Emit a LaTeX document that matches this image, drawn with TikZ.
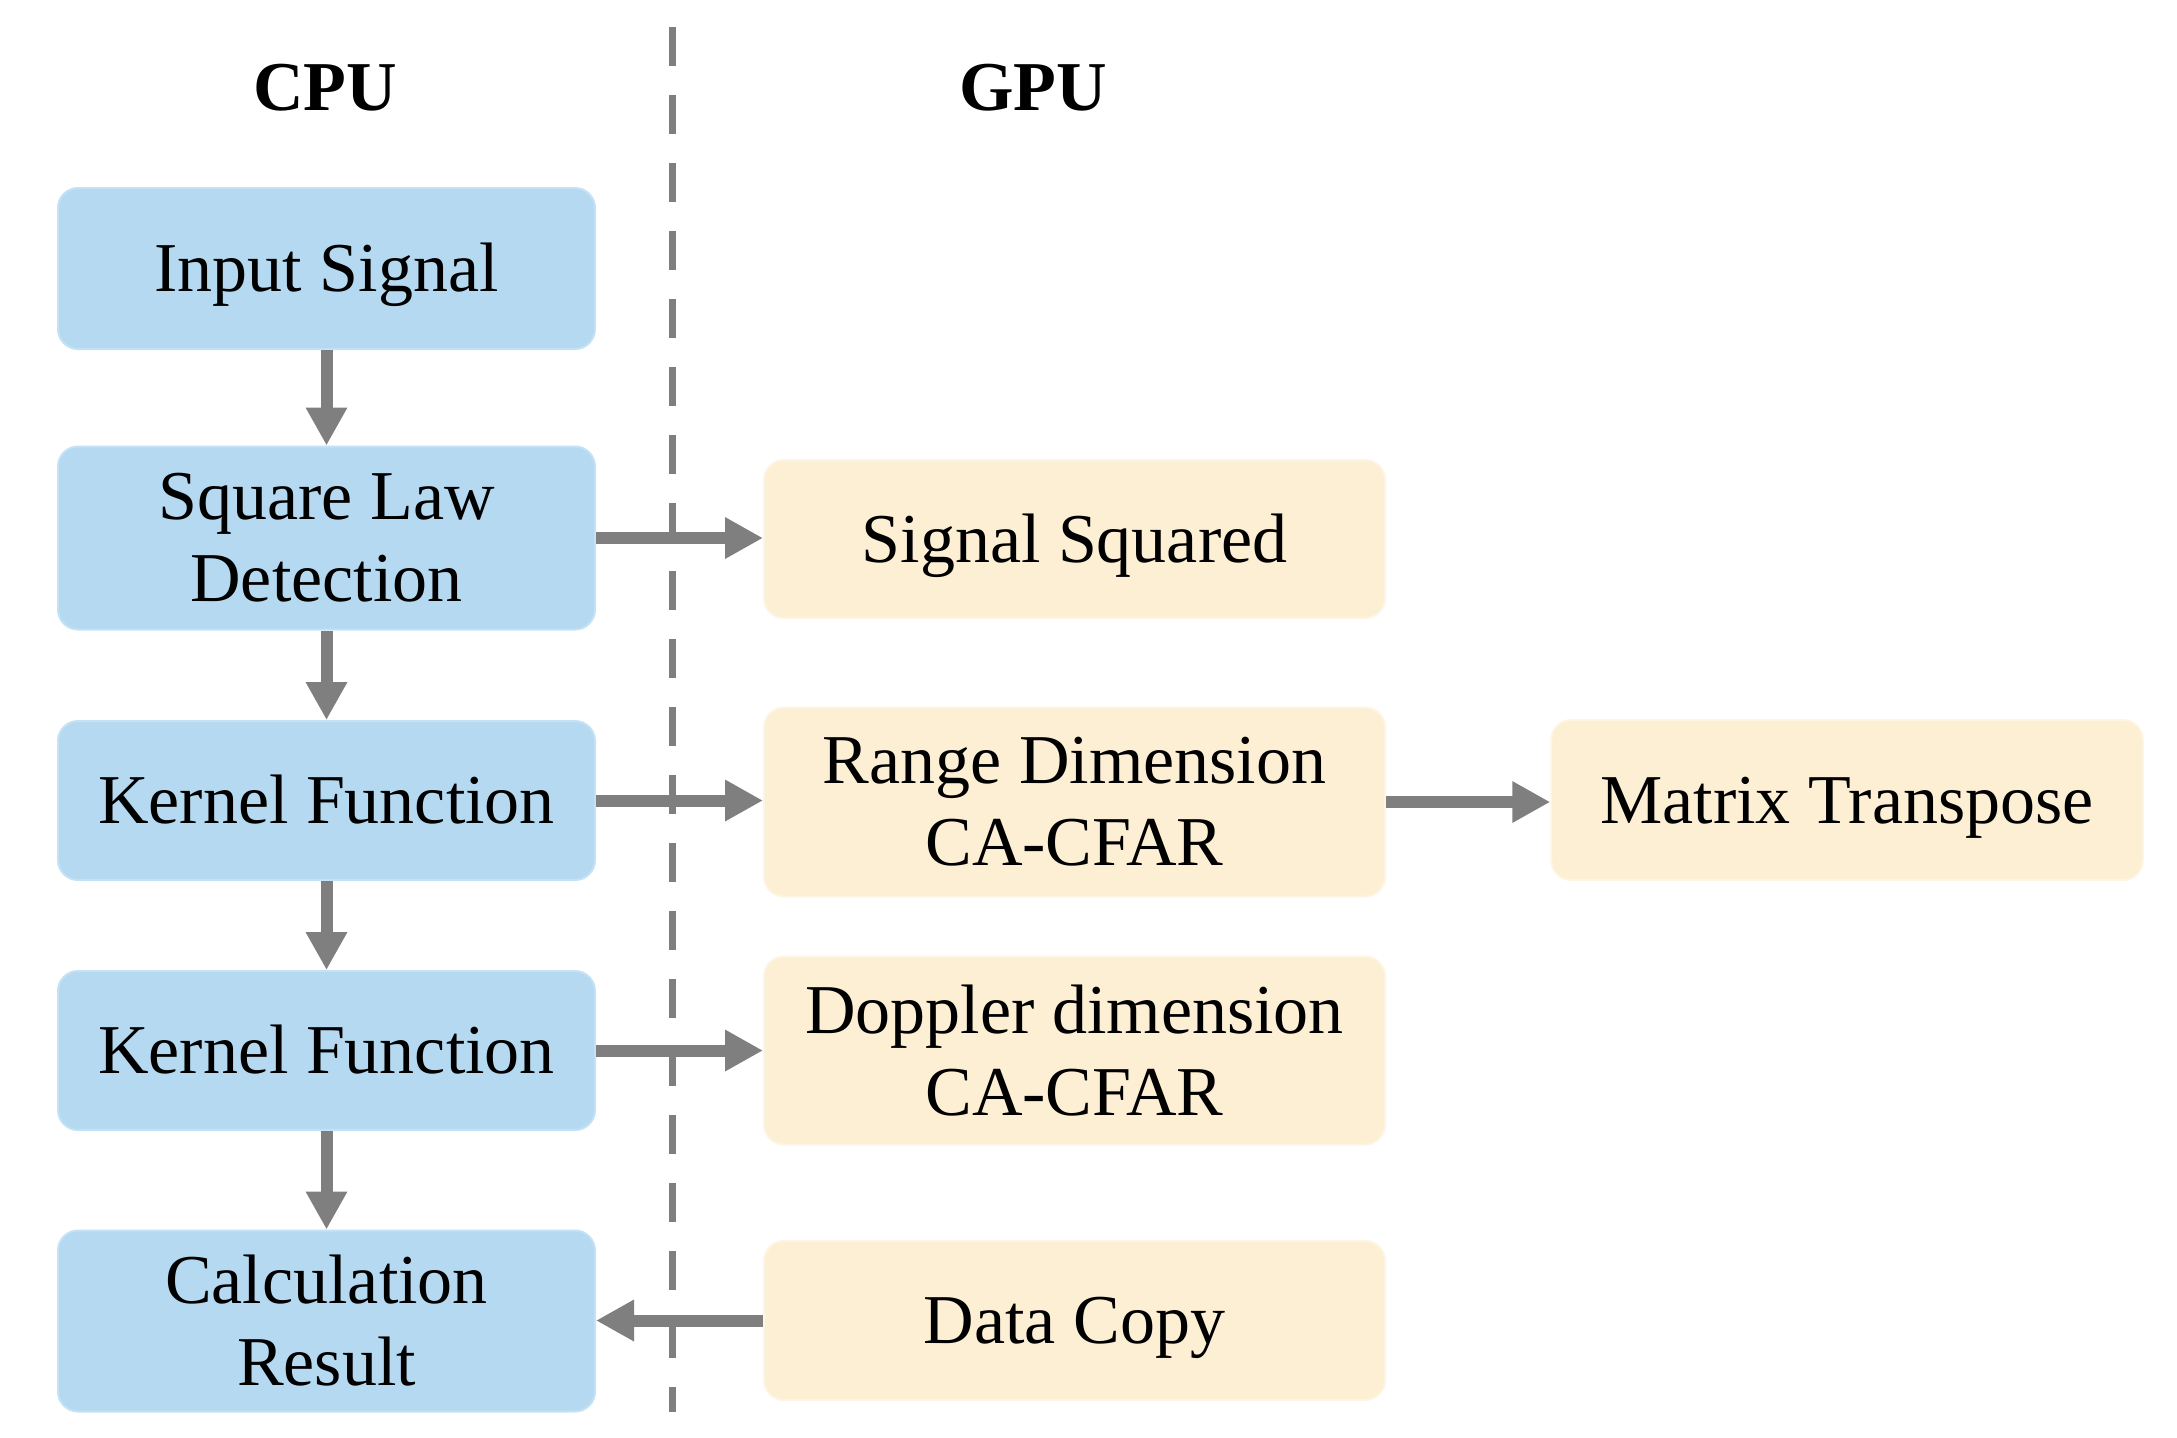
\documentclass[tikz,border=0pt]{standalone}
\usepackage{fontspec}
\setmainfont{Liberation Serif}
\usetikzlibrary{arrows.meta}
\definecolor{cpublue}{HTML}{B4D9F0}
\definecolor{cpuedge}{HTML}{C4E2F5}
\definecolor{gpuorange}{HTML}{FDEFD4}
\definecolor{gpuedge}{HTML}{FEF4E2}
\definecolor{arrgray}{HTML}{7F7F7F}
\tikzset{
  cpubox/.style={rectangle, rounded corners=10pt, fill=cpublue, draw=cpuedge, line width=1pt,
    minimum width=268.5pt, inner sep=0pt, align=center, font=\fontsize{35}{41}\selectfont},
  gpubox/.style={rectangle, rounded corners=10pt, fill=gpuorange, draw=gpuedge, line width=1pt,
    minimum width=310.5pt, inner sep=0pt, align=center, font=\fontsize{35}{41}\selectfont},
  oneline/.style={text height=31pt, text depth=8pt},
  head/.style={font=\fontsize{35}{41}\selectfont\bfseries, inner sep=0pt},
  arr/.style={draw=arrgray, line width=6pt, -{Triangle[length=19pt,width=19.5pt]}},
  divider/.style={draw=arrgray, line width=3.5pt, dash pattern=on 19.5pt off 14.5pt}
}
\begin{document}
\begin{tikzpicture}[x=0.5pt,y=-0.5pt]
\useasboundingbox (0,0) rectangle (2177,1437);
% headers
\node[head] (cpu) at (325,88) {CPU};
\node[head] (gpu) at (1033,88) {GPU};
% divider
\coordinate (dtop) at (672,27);
\coordinate (dbot) at (672,1412);
\draw[divider] (dtop) -- (dbot);
% CPU boxes
\node[cpubox, oneline, minimum height=80.5pt] (in) at (326.5,268.5) {Input Signal};
\node[cpubox, minimum height=91.5pt] (sq) at (326.5,538) {Square Law\\Detection};
\node[cpubox, oneline, minimum height=79.5pt] (k1) at (326.5,800.5) {Kernel Function};
\node[cpubox, oneline, minimum height=79.5pt] (k2) at (326.5,1050.5) {Kernel Function};
\node[cpubox, minimum height=90.5pt] (calc) at (326.5,1321) {Calculation\\Result};
% GPU boxes
\node[gpubox, oneline, minimum height=79pt] (sig) at (1074.5,539) {Signal Squared};
\node[gpubox, minimum height=94.5pt] (rng) at (1074.5,802) {Range Dimension\\CA-CFAR};
\node[gpubox, minimum height=94pt] (dop) at (1074.5,1050.5) {Doppler dimension\\CA-CFAR};
\node[gpubox, oneline, minimum height=79.5pt] (copy) at (1074.5,1320.5) {Data Copy};
\node[gpubox, oneline, minimum width=295.75pt, minimum height=80pt] (mt) at (1847,800) {Matrix Transpose};
% vertical arrows
\draw[arr] (in.south) -- (sq.north);
\draw[arr] (sq.south) -- (k1.north);
\draw[arr] (k1.south) -- (k2.north);
\draw[arr] (k2.south) -- (calc.north);
% horizontal arrows
\draw[arr] (sq.east) -- (sq.east -| sig.west);
\draw[arr] (k1.east) -- (k1.east -| rng.west);
\draw[arr] (k2.east) -- (k2.east -| dop.west);
\draw[arr] (rng.east) -- (rng.east -| mt.west);
\draw[arr] (copy.west) -- (copy.west -| calc.east);
\end{tikzpicture}
\end{document}
